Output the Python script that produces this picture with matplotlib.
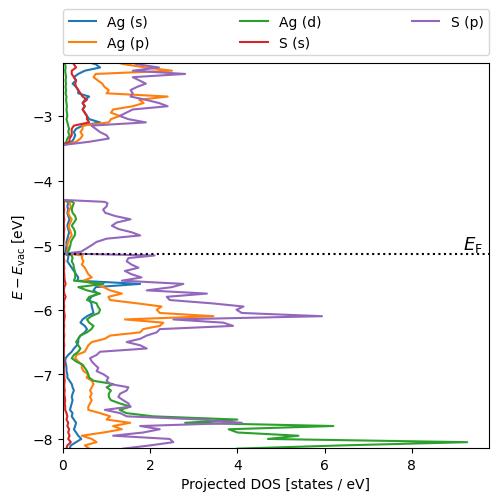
import numpy as np
import matplotlib
matplotlib.use("Agg")
import matplotlib.pyplot as plt
import matplotlib.transforms as mtransforms

# Energies (eV vs vacuum) of the upper band block and the lower band block
E_top = [-2.15, -2.20, -2.25, -2.30, -2.35, -2.40, -2.45, -2.50, -2.55,
         -2.60, -2.65, -2.70, -2.75, -2.80, -2.85, -2.90, -2.95, -3.00,
         -3.05, -3.10, -3.15, -3.20, -3.25, -3.30, -3.35, -3.40, -3.45]
E_bot = [-4.30, -4.33,
         -4.35, -4.40, -4.45, -4.50, -4.55, -4.60, -4.65, -4.70,
         -4.75, -4.80, -4.85, -4.90, -4.95, -5.00, -5.05, -5.10,
         -5.13, -5.16,
         -5.20, -5.25, -5.30, -5.35, -5.40, -5.45, -5.50, -5.55,
         -5.60, -5.65, -5.70, -5.75, -5.80, -5.85, -5.90,
         -5.95, -6.00, -6.05, -6.10, -6.15, -6.20, -6.25, -6.30, -6.35,
         -6.40, -6.45, -6.50, -6.55, -6.60, -6.65, -6.70, -6.75,
         -6.80, -6.85, -6.90, -6.95, -7.00, -7.05, -7.10, -7.15,
         -7.20, -7.25, -7.30, -7.35, -7.40, -7.45, -7.50,
         -7.55, -7.60, -7.65, -7.70, -7.75, -7.80, -7.85, -7.90,
         -7.95, -8.00, -8.05, -8.10, -8.15]

ag_s_top = [0.5, 0.75, 0.85, 0.5, 0.35, 0.25, 0.3, 0.22, 0.3, 0.35, 0.35, 0.6, 0.5, 0.45,
            0.5, 0.45, 0.5, 0.55, 0.6, 0.85, 0.45, 0.3, 0.25, 0.28, 0.25, 0.2, 0.0]
ag_s_bot = [0.0, 0.1,
            0.12, 0.1, 0.12, 0.1, 0.12, 0.15, 0.12, 0.1, 0.12, 0.14, 0.12, 0.1, 0.08, 0.08, 0.07, 0.06,
            0.03, 0.12,
            0.12, 0.1, 0.15, 0.2, 0.25, 0.3, 0.35, 0.33, 1.77, 0.75, 0.7, 0.8, 0.65, 0.6, 0.65,
            0.66, 0.68, 0.7, 0.55, 0.45, 0.4, 0.5, 0.55, 0.5, 0.4, 0.35, 0.35, 0.32, 0.25, 0.2, 0.12, 0.06,
            0.05, 0.07, 0.08, 0.08, 0.1, 0.1, 0.15, 0.2, 0.22, 0.25, 0.22, 0.2, 0.22, 0.2, 0.18,
            0.16, 0.22, 0.2, 0.25, 0.3, 0.28, 0.25, 0.3, 0.35, 0.42, 0.3, 0.18, 0.15]

ag_p_top = [1.1, 1.4, 1.9, 2.5, 0.75, 0.7, 0.8, 0.9, 0.95, 1.05, 1.0, 2.4, 1.75, 1.85,
            1.6, 1.15, 1.1, 1.3, 1.1, 1.05, 0.45, 0.45, 0.4, 0.45, 0.4, 0.3, 0.0]
ag_p_bot = [0.0, 0.15,
            0.15, 0.18, 0.15, 0.12, 0.15, 0.2, 0.17, 0.13, 0.15, 0.18, 0.2, 0.15, 0.12, 0.1, 0.12, 0.1,
            0.05, 0.45,
            0.43, 0.47, 0.43, 0.5, 0.54, 0.58, 0.66, 0.47, 0.7, 0.93, 1.08, 1.35, 1.04, 1.08, 1.69,
            2.26, 2.15, 2.22, 3.45, 1.42, 2.3, 2.22, 1.84, 1.77, 1.08, 0.96, 0.66, 0.58, 0.54, 0.5, 0.31, 0.28,
            0.35, 0.43, 0.43, 0.47, 0.58, 0.54, 0.66, 0.7, 0.66, 0.62, 0.66, 0.62, 0.66, 0.62, 0.58,
            0.58, 0.85, 1.08, 1.0, 1.54, 1.15, 1.35, 0.93, 0.43, 0.66, 0.77, 0.5, 0.6]

ag_d_top = [0.06, 0.05, 0.06, 0.05, 0.06, 0.07, 0.06, 0.07, 0.06, 0.07, 0.06, 0.08, 0.07, 0.08,
            0.09, 0.08, 0.09, 0.1, 0.08, 0.1, 0.12, 0.14, 0.12, 0.15, 0.1, 0.08, 0.0]
ag_d_bot = [0.0, 0.22,
            0.25, 0.22, 0.2, 0.22, 0.28, 0.3, 0.25, 0.2, 0.25, 0.28, 0.27, 0.22, 0.18, 0.17, 0.15, 0.12,
            0.05, 0.2,
            0.22, 0.2, 0.24, 0.25, 0.27, 0.28, 0.28, 0.25, 0.93, 0.35, 0.55, 0.85, 0.6, 0.55, 0.77,
            0.8, 0.85, 0.82, 0.65, 0.55, 0.6, 0.7, 0.65, 0.55, 0.4, 0.35, 0.3, 0.35, 0.4, 0.35, 0.25, 0.2,
            0.3, 0.45, 0.5, 0.55, 0.58, 0.6, 0.7, 1.15, 1.0, 1.1, 1.05, 1.05, 1.1, 1.3, 1.55,
            1.3, 1.45, 2.07, 4.0, 2.8, 6.2, 3.8, 4.0, 5.4, 4.7, 9.27, 6.4, 4.0]

s_s_top = [0.2, 0.25, 0.3, 0.2, 0.2, 0.25, 0.3, 0.28, 0.3, 0.35, 0.4, 0.45, 0.55, 0.45,
           0.5, 0.45, 0.5, 0.55, 0.55, 0.6, 0.25, 0.2, 0.2, 0.2, 0.15, 0.15, 0.0]
s_s_bot = [0.0, 0.02,
           0.02, 0.02, 0.03, 0.02, 0.02, 0.03, 0.02, 0.02, 0.03, 0.02, 0.02, 0.02, 0.01, 0.01, 0.01, 0.01,
           0.01, 0.02,
           0.02, 0.03, 0.02, 0.03, 0.02, 0.03, 0.03, 0.04, 0.06, 0.03, 0.02, 0.03, 0.06, 0.03, 0.02,
           0.03, 0.02, 0.03, 0.04, 0.03, 0.02, 0.03, 0.02, 0.02, 0.03, 0.02, 0.02, 0.03, 0.02, 0.02, 0.02, 0.02,
           0.02, 0.03, 0.02, 0.02, 0.03, 0.03, 0.04, 0.03, 0.03, 0.04, 0.03, 0.04, 0.05, 0.04, 0.05,
           0.05, 0.08, 0.1, 0.08, 0.12, 0.1, 0.14, 0.12, 0.15, 0.12, 0.18, 0.1, 0.08]

s_p_top = [1.5, 1.7, 2.2, 1.6, 2.8, 1.6, 1.75, 1.9, 1.7, 1.55, 1.6, 1.55, 1.9, 2.2,
           2.4, 1.6, 1.45, 1.3, 1.5, 1.9, 0.65, 0.75, 0.85, 1.0, 1.05, 0.6, 0.0]
s_p_bot = [0.0, 0.95,
           1.02, 1.0, 0.92, 0.97, 1.2, 1.55, 1.23, 1.12, 1.27, 1.57, 1.77, 1.0, 0.77, 0.66, 0.54, 0.42,
           0.05, 2.1,
           1.5, 1.46, 1.57, 1.73, 1.42, 1.57, 1.8, 1.35, 2.76, 2.5, 1.92, 3.3, 2.38, 2.45, 3.4,
           4.14, 3.98, 4.1, 5.94, 2.53, 3.68, 3.9, 2.22, 2.15, 1.92, 1.77, 1.46, 1.77, 1.92, 0.85, 0.77, 0.62,
           0.66, 0.73, 0.81, 0.77, 0.93, 1.04, 1.0, 1.08, 1.5, 1.46, 1.31, 1.27, 1.38, 1.5, 1.54,
           0.96, 1.31, 1.46, 3.2, 4.1, 1.77, 2.22, 1.84, 1.15, 2.45, 2.53, 2.0, 1.38]

labels = ["Ag (s)", "Ag (p)", "Ag (d)", "S (s)", "S (p)"]
pdos = [ag_s_top + ag_s_bot, ag_p_top + ag_p_bot, ag_d_top + ag_d_bot,
        s_s_top + s_s_bot, s_p_top + s_p_bot]
energy = np.array(E_top + E_bot)
e_fermi = -5.14

fig = plt.figure(figsize=(4.98, 5.02), dpi=100)
ax = fig.add_axes([0.1265, 0.1056, 0.8554, 0.767])

for lab, dos in zip(labels, pdos):
    ax.plot(dos, energy, label=lab)

ax.axhline(e_fermi, color="k", linestyle=":", linewidth=1.5)
trans = mtransforms.blended_transform_factory(ax.transAxes, ax.transData)
ax.text(0.985, e_fermi, r"$E_\mathrm{F}$", transform=trans,
        ha="right", va="bottom", fontsize=13)

ax.set_xlim(0, 9.77)
ax.set_ylim(-8.14, -2.18)
ax.set_xticks([0, 2, 4, 6, 8])
ax.set_yticks([-8, -7, -6, -5, -4, -3])
ax.set_xlabel("Projected DOS [states / eV]")
ax.set_ylabel(r"$E - E_\mathrm{vac}$ [eV]")

ax.legend(bbox_to_anchor=(0, 1.02, 1, 0.2), loc="lower left",
          mode="expand", ncol=3, borderaxespad=0)

fig.savefig("out.png", dpi=100)
